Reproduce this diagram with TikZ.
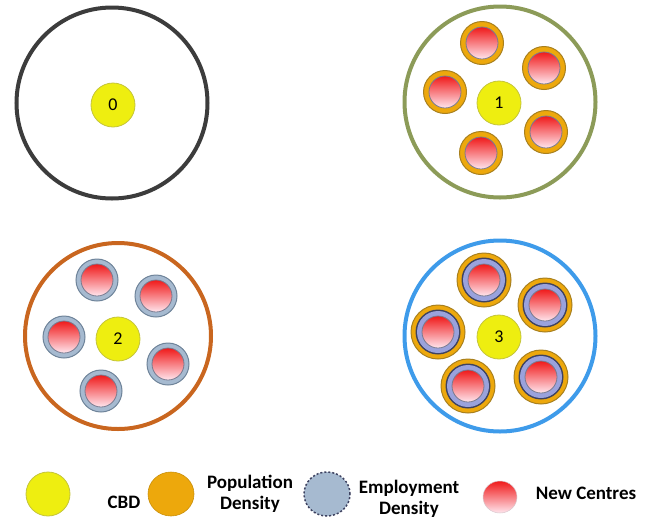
\documentclass[tikz,border=0pt]{standalone}
\usepackage{fontspec}
\setmainfont{Carlito}
\usetikzlibrary{shapes.geometric}
\definecolor{cbdyellow}{HTML}{EEEE10}
\definecolor{cbdedge}{HTML}{C4C43A}
\definecolor{poporange}{HTML}{EDA80C}
\definecolor{popedge}{HTML}{A8801E}
\definecolor{empblue}{HTML}{A6BAD0}
\definecolor{empedge}{HTML}{6E8399}
\definecolor{mixblue}{HTML}{9AA2DC}
\definecolor{mixedge}{HTML}{3E4260}
\definecolor{centrered}{HTML}{F01A1A}
\definecolor{centrepink}{HTML}{FFE6EE}
\definecolor{ringgrey}{HTML}{3C3C3C}
\definecolor{ringolive}{HTML}{8C9B58}
\definecolor{ringbrown}{HTML}{C9661F}
\definecolor{ringblue}{HTML}{3E9BEA}
\tikzset{
  region/.style = {
    circle,
    draw,
    line width=4pt,
    inner sep=0pt,
    minimum size=191pt
  },
  cbdnode/.style = {
    circle,
    draw=cbdedge,
    fill=cbdyellow,
    line width=0.8pt,
    inner sep=0pt,
    minimum size=44pt,
    font=\fontsize{18}{20}\selectfont
  },
  popring/.style = {
    circle,
    draw=popedge,
    fill=poporange,
    line width=1pt,
    inner sep=0pt,
    minimum size=43pt
  },
  empring/.style = {
    circle,
    draw=empedge,
    fill=empblue,
    line width=1pt,
    inner sep=0pt,
    minimum size=42pt
  },
  mixring/.style = {
    circle,
    draw=popedge,
    fill=poporange,
    line width=1pt,
    inner sep=0pt,
    minimum size=54pt,
    path picture={
      \fill[mixedge] (path picture bounding box.center) circle (22.5pt);
      \fill[mixblue] (path picture bounding box.center) circle (21pt);
    }
  },
  newcentre/.style = {
    circle,
    draw=mixedge!70,
    line width=0.8pt,
    top color=centrered,
    bottom color=centrepink,
    inner sep=0pt,
    minimum size=32pt
  },
  legshape/.style = {
    ellipse,
    inner sep=0pt,
    minimum width=46pt,
    minimum height=44pt
  },
  legtext/.style = {
    align=center,
    font=\bfseries\fontsize{19}{20.5}\selectfont
  }
}

\begin{document}
\begin{tikzpicture}[x=1pt, y=-1pt]
    \useasboundingbox (0,0) rectangle (645,523);
    % scenario 0
    \node[region, draw=ringgrey] (reg0) at (112,103) {};
    \node[cbdnode] (cbd0) at (113,105) {0};
    % scenario 1
    \node[region, draw=ringolive] (reg1) at (500,102) {};
    \node[cbdnode] (cbd1) at (499,103) {1};
    \node[popring] (pa1) at (482,43) {};
    \node[newcentre] (na1) at (pa1) {};
    \node[popring] (pb1) at (544,68) {};
    \node[newcentre] (nb1) at (pb1) {};
    \node[popring] (pc1) at (445,92) {};
    \node[newcentre] (nc1) at (pc1) {};
    \node[popring] (pd1) at (546,132) {};
    \node[newcentre] (nd1) at (pd1) {};
    \node[popring] (pe1) at (481,153) {};
    \node[newcentre] (ne1) at (pe1) {};
    % scenario 2
    \node[region, draw=ringbrown, minimum size=186pt] (reg2) at (118,336) {};
    \node[cbdnode] (cbd2) at (118,339) {2};
    \node[empring] (ea2) at (97,280) {};
    \node[newcentre] (na2) at (ea2) {};
    \node[empring] (eb2) at (156,296) {};
    \node[newcentre] (nb2) at (eb2) {};
    \node[empring] (ec2) at (64,337) {};
    \node[newcentre] (nc2) at (ec2) {};
    \node[empring] (ed2) at (168,364) {};
    \node[newcentre] (nd2) at (ed2) {};
    \node[empring] (ee2) at (101,391) {};
    \node[newcentre] (ne2) at (ee2) {};
    % scenario 3
    \node[region, draw=ringblue] (reg3) at (500,336) {};
    \node[cbdnode] (cbd3) at (499,337) {3};
    \node[mixring] (ma3) at (484,280) {};
    \node[newcentre] (na3) at (ma3) {};
    \node[mixring] (mb3) at (545,305) {};
    \node[newcentre] (nb3) at (mb3) {};
    \node[mixring] (mc3) at (438,332) {};
    \node[newcentre] (nc3) at (mc3) {};
    \node[mixring] (md3) at (468,386) {};
    \node[newcentre] (nd3) at (md3) {};
    \node[mixring] (me3) at (541,377) {};
    \node[newcentre] (ne3) at (me3) {};
    % legend
    \node[legshape, fill=cbdyellow, draw=cbdedge, line width=0.8pt, minimum width=44pt] (legcbd) at (48,494) {};
    \node[legtext] (txtcbd) at (124,502) {CBD};
    \node[legshape, fill=poporange, draw=poporange!85!black, line width=0.6pt] (legpop) at (171,494) {};
    \node[legtext] (txtpop) at (250,494) {Population\\Density};
    \node[legshape, fill=empblue, draw=mixedge, line width=1.5pt, dash pattern=on 2pt off 2pt] (legemp) at (327,494) {};
    \node[legtext] (txtemp) at (409,499) {Employment\\Density};
    \node[legshape, top color=centrered, bottom color=centrepink, draw=centrepink!70!gray, line width=0.5pt, minimum width=34pt, minimum height=32pt] (legnew) at (500,497) {};
    \node[legtext] (txtnew) at (586,493) {New Centres};
\end{tikzpicture}
\end{document}
